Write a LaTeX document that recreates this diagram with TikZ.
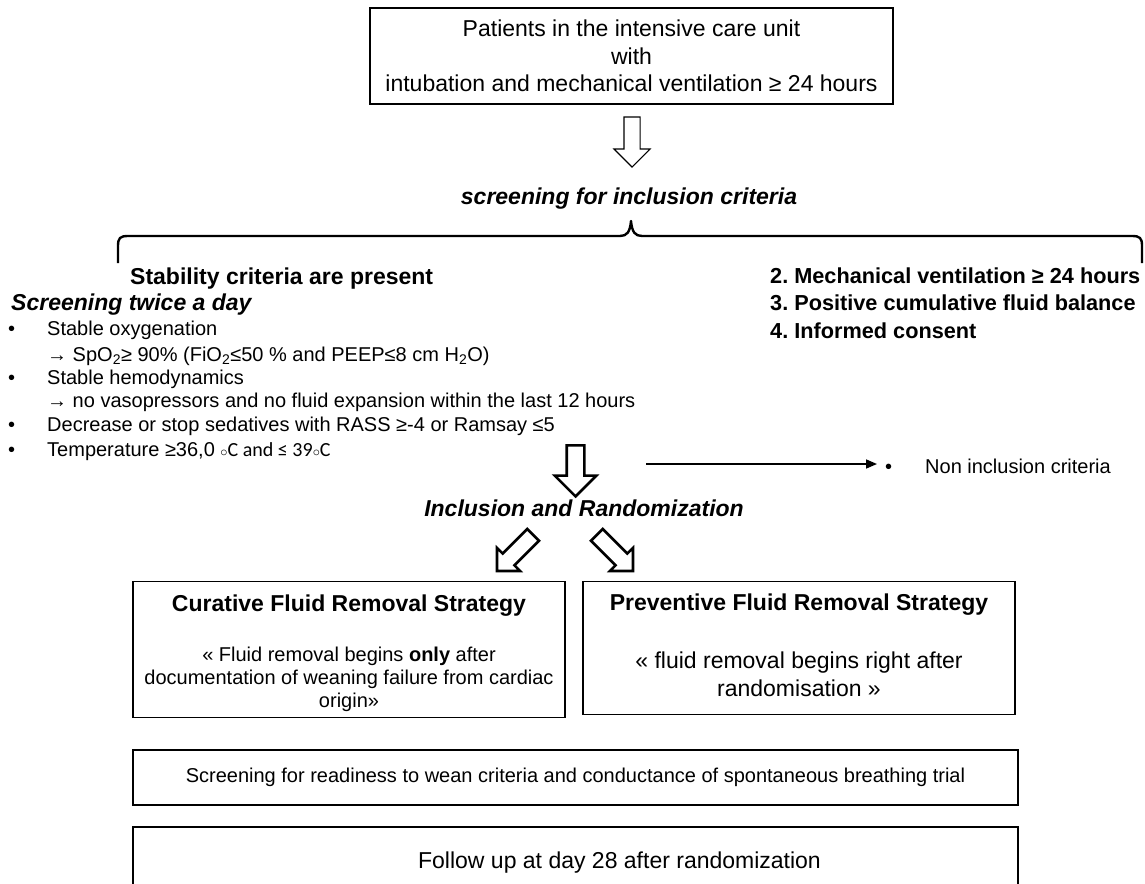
\documentclass[tikz,border=0pt]{standalone}
\usepackage{fontspec}
\setmainfont{Liberation Sans}
\newfontfamily\carlito{Carlito}
\usetikzlibrary{shapes.arrows,arrows.meta}
\newcommand\fsA{\fontsize{23}{27.5}\selectfont}
\newcommand\fsB{\fontsize{20}{23.5}\selectfont}
\newcommand\fsC{\fontsize{21.7}{27.5}\selectfont}
\frenchspacing
\begin{document}
\begin{tikzpicture}[x=1pt,y=-1pt,
  box/.style={draw, line width=1.3pt, inner sep=0pt},
  ln/.style={inner sep=0pt, anchor=base west},
  lc/.style={inner sep=0pt, anchor=base},
  blockarrow/.style={single arrow, draw, line width=#1, inner xsep=0pt, minimum width=0pt, fill=white},
  bul/.style={inner sep=0pt, anchor=base west, font=\fsB}
]
\useasboundingbox (0,0) rectangle (1145,883);
\clip (0,0) rectangle (1145,883);

% top box
\node[box, line width=1.4pt, minimum width=523, minimum height=96, align=center, font=\fsA] (top) at (631.5,56)
  {Patients in the intensive care unit\\with\\intubation and mechanical ventilation ≥ 24 hours};

% first block arrow
\node[blockarrow=1.1pt, inner ysep=7.5pt, single arrow head extend=10pt, minimum height=50pt, rotate=-90] (a1) at (632,138) {};

\node[lc, font=\fsA\bfseries\itshape] (screen) at (629,204) {screening for inclusion criteria};

% brace
\draw[line width=2.4pt, line join=round] (118,263) -- (118,246) .. controls (118,238) and (120,236) .. (128,236)
  -- (620,236) .. controls (627,236) and (630,232) .. (631,221)
  .. controls (632,232) and (635,236) .. (642,236)
  -- (1132,236) .. controls (1140,236) and (1142,238) .. (1142,246) -- (1142,263);

% left column
\node[ln, font=\fsA\bfseries] (stab) at (130,284) {Stability criteria are present};
\node[ln, font=\fsA\bfseries\itshape] (twice) at (11,310) {Screening twice a day};
\node[bul] (b1) at (8,335) {•};
\node[ln, font=\fsB] (l1) at (47,335) {Stable oxygenation};
\node[ln, font=\fsB] (l2) at (47,361) {→ SpO\textsubscript{2}≥ 90\% (FiO\textsubscript{2}≤50 \% and PEEP≤8 cm H\textsubscript{2}O)};
\node[bul] (b2) at (8,384) {•};
\node[ln, font=\fsB] (l3) at (47,384) {Stable hemodynamics};
\node[ln, font=\fsB] (l4) at (47,407) {→ no vasopressors and no fluid expansion within the last 12 hours};
\node[bul] (b3) at (8,431) {•};
\node[ln, font=\fsB] (l5) at (47,431) {Decrease or stop sedatives with RASS ≥-4 or Ramsay ≤5};
\node[bul] (b4) at (8,456) {•};
\node[ln, font=\fsB] (l6) at (47,456) {Temperature ≥36,0 {\carlito$\scriptstyle\circ$C and ≤ 39$\scriptstyle\circ$C}};

% right column
\node[ln, font=\fsC\bfseries] (r2) at (770,283) {2. Mechanical ventilation ≥ 24 hours};
\node[ln, font=\fsC\bfseries] (r3) at (770,310) {3. Positive cumulative fluid balance};
\node[ln, font=\fsC\bfseries] (r4) at (770,338) {4. Informed consent};

% middle thick arrow
\node[blockarrow=2.6pt, inner ysep=7.5pt, single arrow head extend=12pt, minimum height=51pt, rotate=-90] (a2) at (575.5,466.5) {};

% non inclusion
\coordinate (nistart) at (646,464);
\coordinate (niend) at (877,464);
\draw[line width=1.6pt, -{Triangle[length=11pt,width=9pt]}] (nistart) -- (niend);
\node[bul] (nib) at (885,473) {•};
\node[ln, font=\fsB] (nit) at (925,473) {Non inclusion criteria};

\node[lc, font=\fsA\bfseries\itshape] (incl) at (584,516) {Inclusion and Randomization};

% diagonal arrows
\node[blockarrow=2.6pt, inner ysep=7pt, single arrow head extend=8pt, minimum height=51pt, rotate=-135] (a3) at (518,550) {};
\node[blockarrow=2.6pt, inner ysep=7pt, single arrow head extend=8pt, minimum height=51pt, rotate=-45] (a4) at (612,550) {};

% strategy boxes
\node[box, minimum width=432, minimum height=136] (cur) at (349,649.5) {};
\node[lc, font=\fsA\bfseries] (curt) at (349,611) {Curative Fluid Removal Strategy};
\node[lc, font=\fsB] (cur1) at (349,661) {« Fluid removal begins \textbf{only} after};
\node[lc, font=\fsB] (cur2) at (349,684) {documentation of weaning failure from cardiac};
\node[lc, font=\fsB] (cur3) at (349,707) {origin»};

\node[box, minimum width=432, minimum height=132.5] (prev) at (799,648) {};
\node[lc, font=\fsA\bfseries] (prevt) at (799,610) {Preventive Fluid Removal Strategy};
\node[lc, font=\fsA] (prev1) at (799,668) {« fluid removal begins right after};
\node[lc, font=\fsA] (prev2) at (799,696) {randomisation »};

% bottom boxes
\node[box, minimum width=885, minimum height=55, font=\fsB] (sbt) at (575.5,777.5) {Screening for readiness to wean criteria and conductance of spontaneous breathing trial};
\node[box, minimum width=885, minimum height=73] (fu) at (575.5,863.5) {};
\node[lc, font=\fsA] (fut) at (619.5,868) {Follow up at day 28 after randomization};
\end{tikzpicture}
\end{document}
